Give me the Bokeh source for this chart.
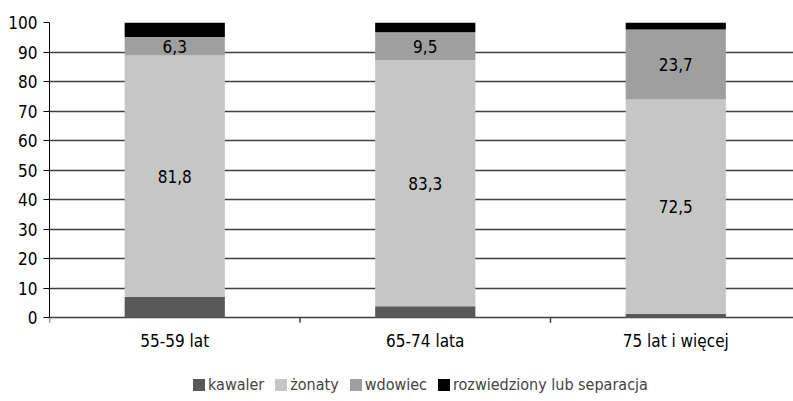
from bokeh.plotting import figure
from bokeh.models import ColumnDataSource, FixedTicker, Range1d, Legend
from bokeh.core.properties import value
from bokeh.embed import file_html
from bokeh.resources import INLINE

categories = ["55-59 lat", "65-74 lata", "75 lat i więcej"]
kawaler = [7.0, 3.9, 1.4]
zonaty = [81.8, 83.3, 72.5]
wdowiec = [6.3, 9.5, 23.7]
rozwiedziony = [4.9, 3.3, 2.4]
series_names = ["kawaler", "żonaty", "wdowiec", "rozwiedziony lub separacja"]
y_ticks = [0, 10, 20, 30, 40, 50, 60, 70, 80, 90, 100]

FONT = "'DejaVu Sans Condensed', 'Roboto'"
colors = ["#595959", "#c6c6c6", "#9f9f9f", "#000000"]

xs = [i + 0.5 for i in range(len(categories))]
source = ColumnDataSource(dict(x=xs, kawaler=kawaler, zonaty=zonaty,
                               wdowiec=wdowiec, rozwiedziony=rozwiedziony))

p = figure(frame_width=744, frame_height=379, output_backend="svg", toolbar_location=None,
           x_range=Range1d(0, 2.97), y_range=Range1d(-28.35, 100),
           x_axis_location=None,
           min_border_left=49, min_border_right=0, min_border_top=22,
           min_border_bottom=0)
p.outline_line_color = None
p.background_fill_color = "white"
p.border_fill_color = "white"

renderers = p.vbar_stack(["kawaler", "zonaty", "wdowiec", "rozwiedziony"], x="x",
                         width=0.4, color=colors, line_color=None, source=source)

# value labels for żonaty and wdowiec
lx, ly, lt = [], [], []
for i in range(len(categories)):
    lx.append(xs[i]); ly.append(kawaler[i] + zonaty[i] / 2); lt.append(f"{zonaty[i]:.1f}".replace(".", ","))
    lx.append(xs[i]); ly.append(kawaler[i] + zonaty[i] + wdowiec[i] / 2); lt.append(f"{wdowiec[i]:.1f}".replace(".", ","))
p.text(x=lx, y=ly, text=lt, text_align="center", text_baseline="middle",
       text_font=value(FONT), text_font_size="17px", text_color="black")

# category axis: labels and boundary ticks below the zero line
bounds = list(range(len(categories) + 1))
p.segment(x0=bounds, y0=[0] * len(bounds), x1=bounds, y1=[-1.7] * len(bounds),
          line_color="#404040", line_width=1.5)
p.text(x=xs, y=[-7.7] * len(xs), text=categories, text_align="center",
       text_baseline="middle", text_font=value(FONT), text_font_size="17px",
       text_color="black")

# y axis
p.yaxis.ticker = FixedTicker(ticks=y_ticks)
p.yaxis.bounds = (0, 100)
p.yaxis.axis_line_color = "black"
p.yaxis.major_tick_line_color = "black"
p.yaxis.major_tick_out = 6
p.yaxis.major_tick_in = 0
p.yaxis.minor_tick_line_color = None
p.yaxis.major_label_text_font = FONT
p.yaxis.major_label_text_font_size = "17px"
p.yaxis.major_label_text_color = "black"
p.yaxis.major_label_standoff = 6

p.xgrid.grid_line_color = None
p.ygrid.grid_line_color = "#404040"
p.ygrid.grid_line_width = 1.5

legend = Legend(items=[(series_names[i], [renderers[i]]) for i in range(4)],
                orientation="horizontal", location=(142, 7),
                glyph_width=15, glyph_height=15, label_standoff=2, spacing=9,
                padding=0, margin=0, border_line_color=None, background_fill_alpha=0,
                label_text_font=FONT, label_text_font_size="16px",
                label_height=15)
p.add_layout(legend, "center")

open("out.html", "w").write(file_html(p, INLINE))
